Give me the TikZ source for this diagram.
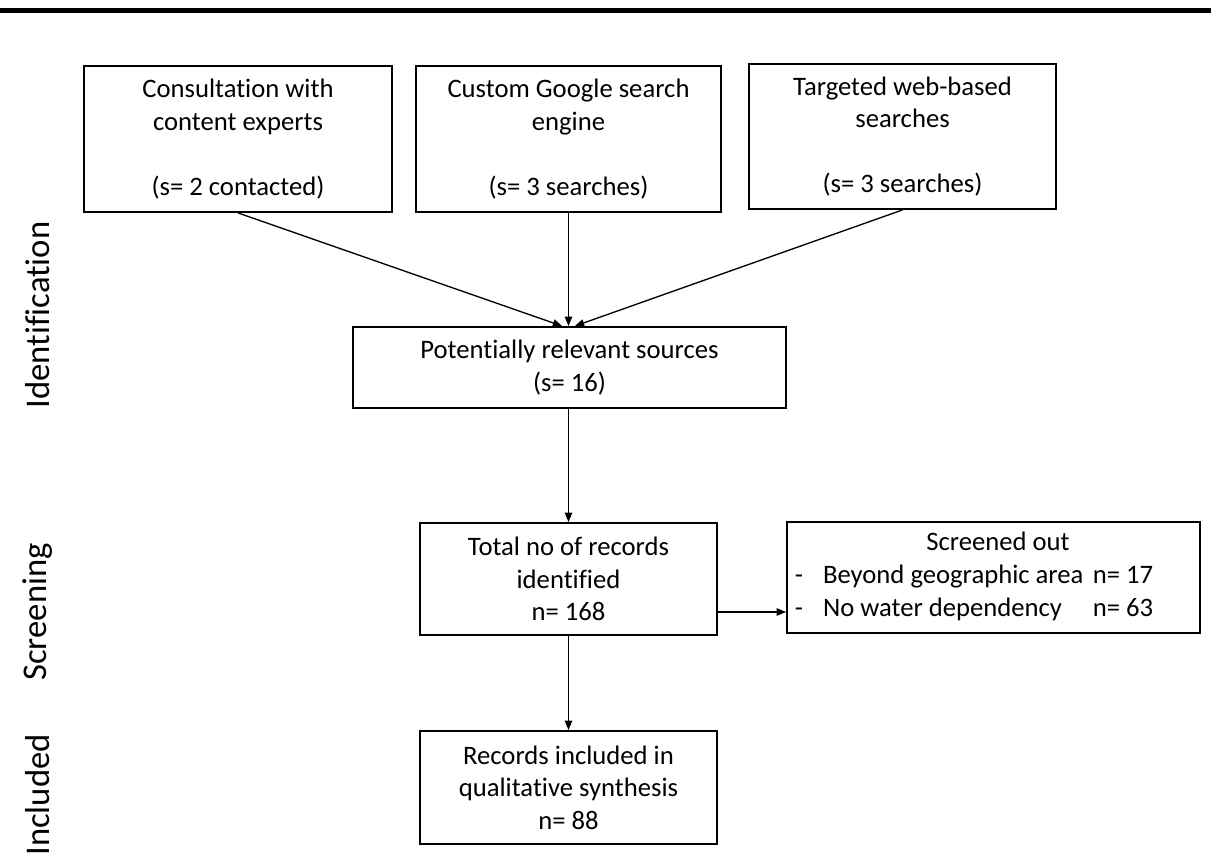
\documentclass[tikz,border=0pt]{standalone}
\usepackage{fontspec}
\setmainfont{Carlito}[RawFeature={-liga;-clig;-dlig}]
\usetikzlibrary{arrows.meta}
\begin{document}
\begin{tikzpicture}[x=0.75pt,y=-0.75pt,
  box/.style={draw=black,line width=1.4pt,inner sep=0pt,align=center,
    font=\fontsize{20}{24.4}\selectfont},
  lbl/.style={inner sep=0pt,align=center,font=\fontsize{20}{24.4}\selectfont},
  phase/.style={inner sep=0pt,rotate=90,font=\fontsize{26}{30}\selectfont},
  arr/.style={draw=black,line width=1pt,-{Triangle[length=7pt,width=5.5pt]}}]
\useasboundingbox (0,0) rectangle (1211,856);
% heading rule
\fill[black] (0,8.5) rectangle (1211,13);

% phase labels
\node[phase] (pid) at (38,315) {Identification};
\node[phase] (pscr) at (38,612) {Screening};
\node[phase] (pinc) at (38,795) {Included};

% identification sources
\node[box,minimum width=231pt,minimum height=109.5pt] (b1) at (238,139)
  {Consultation with\\content experts\\[24.4pt](s= 2 contacted)};
\node[box,minimum width=228.75pt,minimum height=109.5pt] (b2) at (568.5,139)
  {Custom Google search\\engine\\[24.4pt](s= 3 searches)};
\node[box,minimum width=230.25pt,minimum height=108.75pt] (b3) at (902.5,136.5)
  {Targeted web-based\\searches\\[24.4pt](s= 3 searches)};

\node[box,minimum width=324.75pt,minimum height=60.75pt] (b4) at (569.5,367.5)
  {Potentially relevant sources\\(s= 16)};

% screening
\node[box,minimum width=222.75pt,minimum height=84pt] (b5) at (568.5,579)
  {Total no of records\\identified\\n= 168};
\node[box,minimum width=309.75pt,minimum height=83.25pt] (b6) at (993.5,577.5) {};
\node[lbl] (b6t) at (974,577)
  {\begin{tabular}{@{}l@{\hspace{0.35em}}l@{}}
   \multicolumn{2}{c}{\hspace{36pt}Screened out}\\
   -\hspace{0.75em}Beyond geographic area & n= 17\\
   -\hspace{0.75em}No water dependency & n= 63
   \end{tabular}};

% included
\node[box,minimum width=222.75pt,minimum height=84.75pt] (b7) at (568.5,787.5)
  {Records included in\\qualitative synthesis\\n= 88};

% connectors
\draw[arr] (b1.south) -- ([xshift=-5.5pt]b4.north);
\draw[arr] (b2.south) -- (b2.south |- b4.north);
\draw[arr] (b3.south) -- ([xshift=4pt]b4.north);
\draw[arr] (b5.north |- b4.south) -- (b5.north);
\coordinate (out) at ([yshift=-24.75pt]b5.east);
\draw[arr] (out) -- (out -| b6.west);
\draw[arr] (b5.south) -- (b7.north);
\end{tikzpicture}
\end{document}
